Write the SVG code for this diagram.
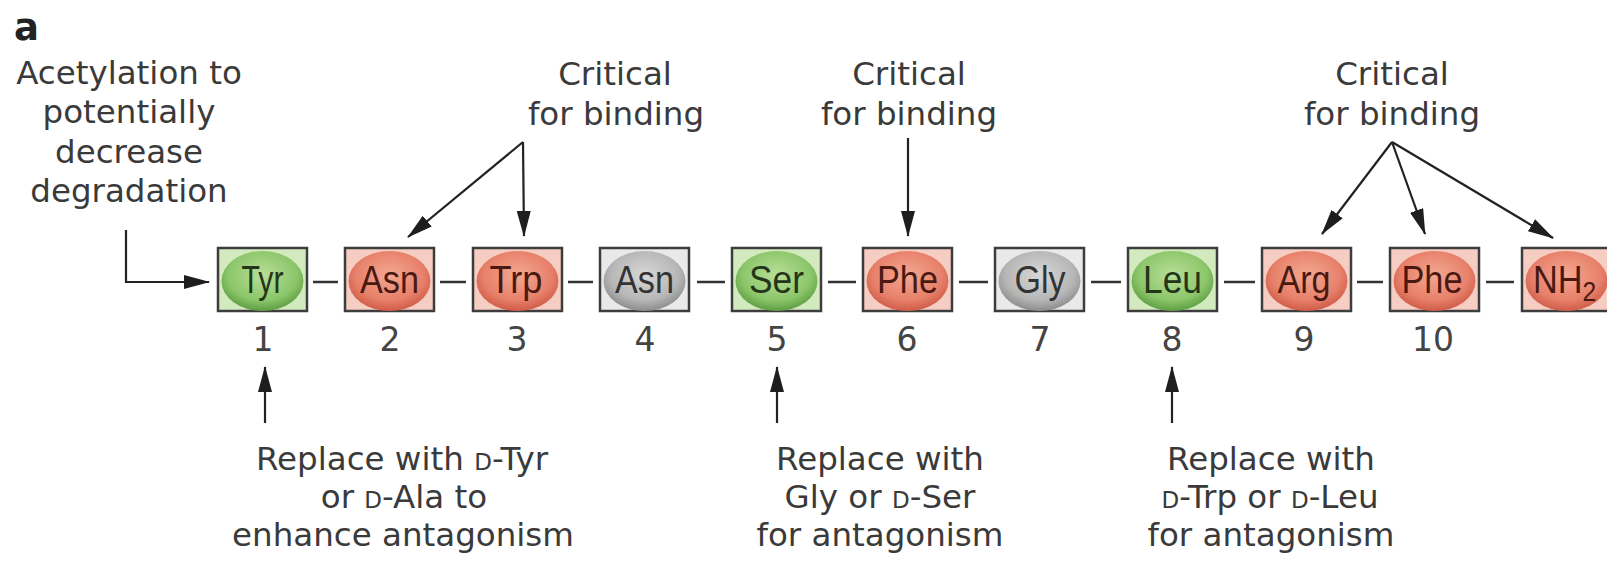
<svg xmlns="http://www.w3.org/2000/svg" width="1607" height="564" viewBox="0 0 1607 564">
<defs>
<style>
.lbl{font-family:"DejaVu Sans",sans-serif;font-size:32.5px;fill:#3a3a3a;text-anchor:middle}
.num{font-family:"DejaVu Sans",sans-serif;font-size:33px;fill:#444;text-anchor:middle}
.res{font-family:"Liberation Sans",Arial,sans-serif;font-size:39px;text-anchor:middle}
.sc{font-size:23px}
.box{stroke:#3d3d3d;stroke-width:2.5}
.gbox{fill:#d3eabf}
.rbox{fill:#f6cdc2}
.kbox{fill:#e9e9e9}
.arr{stroke:#222;stroke-width:2.2;fill:none;marker-end:url(#ah)}
.dash{stroke:#333;stroke-width:2.5}
.gt{fill:#24361a}
.rt{fill:#4a1a12}
.kt{fill:#333}
</style>
<marker id="ah" markerUnits="userSpaceOnUse" markerWidth="26" markerHeight="14" refX="25" refY="7" orient="auto">
<path d="M0,0 L26,7 L0,14 z" fill="#1e1e1e"/>
</marker>
<radialGradient id="gg" cx="50%" cy="40%" r="60%">
<stop offset="0" stop-color="#b9df98"/>
<stop offset="0.7" stop-color="#8cc66a"/>
<stop offset="1" stop-color="#5e9e45"/>
</radialGradient>
<radialGradient id="rg" cx="50%" cy="40%" r="60%">
<stop offset="0" stop-color="#f4a892"/>
<stop offset="0.7" stop-color="#e7806a"/>
<stop offset="1" stop-color="#cf5c48"/>
</radialGradient>
<radialGradient id="kg" cx="50%" cy="40%" r="60%">
<stop offset="0" stop-color="#d8d8d8"/>
<stop offset="0.7" stop-color="#b6b6b6"/>
<stop offset="1" stop-color="#8c8c8c"/>
</radialGradient>
</defs>
<rect width="1607" height="564" fill="#fff"/>
<text x="14" y="40" style="font-family:'DejaVu Sans',sans-serif;font-weight:bold;font-size:37px;fill:#222">a</text>

<g id="label-acetylation">
<text class="lbl" x="129" y="84">Acetylation to</text>
<text class="lbl" x="129" y="123">potentially</text>
<text class="lbl" x="129" y="163">decrease</text>
<text class="lbl" x="129" y="202">degradation</text>
</g>
<g id="label-critical-1">
<text class="lbl" x="615" y="85">Critical</text>
<text class="lbl" x="616" y="125">for binding</text>
</g>
<g id="label-critical-2">
<text class="lbl" x="909" y="85">Critical</text>
<text class="lbl" x="909" y="125">for binding</text>
</g>
<g id="label-critical-3">
<text class="lbl" x="1392" y="85">Critical</text>
<text class="lbl" x="1392" y="125">for binding</text>
</g>
<g id="label-replace-1">
<text class="lbl" x="402" y="470">Replace with <tspan class="sc">D</tspan>-Tyr</text>
<text class="lbl" x="404" y="508">or <tspan class="sc">D</tspan>-Ala to</text>
<text class="lbl" x="403" y="546">enhance antagonism</text>
</g>
<g id="label-replace-5">
<text class="lbl" x="880" y="470">Replace with</text>
<text class="lbl" x="880" y="508">Gly or <tspan class="sc">D</tspan>-Ser</text>
<text class="lbl" x="880" y="546">for antagonism</text>
</g>
<g id="label-replace-8">
<text class="lbl" x="1271" y="470">Replace with</text>
<text class="lbl" x="1270" y="508"><tspan class="sc">D</tspan>-Trp or <tspan class="sc">D</tspan>-Leu</text>
<text class="lbl" x="1271" y="546">for antagonism</text>
</g>

<g id="connectors">
<line class="dash" x1="313" y1="282" x2="338" y2="282"/>
<line class="dash" x1="440" y1="282" x2="466" y2="282"/>
<line class="dash" x1="568" y1="282" x2="593" y2="282"/>
<line class="dash" x1="697" y1="282" x2="725" y2="282"/>
<line class="dash" x1="828" y1="282" x2="856" y2="282"/>
<line class="dash" x1="959" y1="282" x2="988" y2="282"/>
<line class="dash" x1="1091" y1="282" x2="1121" y2="282"/>
<line class="dash" x1="1224" y1="282" x2="1255" y2="282"/>
<line class="dash" x1="1357" y1="282" x2="1383" y2="282"/>
<line class="dash" x1="1486" y1="282" x2="1514" y2="282"/>
<path class="arr" d="M126,230 V282 H209"/>
<path class="arr" d="M523,142 L408,237"/>
<path class="arr" d="M523,142 L524,236"/>
<path class="arr" d="M908,138 L908,236"/>
<path class="arr" d="M1392,142 L1322,234"/>
<path class="arr" d="M1392,142 L1425,234"/>
<path class="arr" d="M1392,142 L1553,238"/>
<path class="arr" d="M265,423 L265,367"/>
<path class="arr" d="M777,423 L777,367"/>
<path class="arr" d="M1172,423 L1172,367"/>
</g>

<g id="res1"><rect class="box gbox" x="218" y="248" width="89" height="63"/><ellipse cx="262.5" cy="281" rx="41" ry="30" fill="url(#gg)"/><text class="res gt" x="262.5" y="293" textLength="42" lengthAdjust="spacingAndGlyphs">Tyr</text><text class="num" x="263" y="351">1</text></g>
<g id="res2"><rect class="box rbox" x="345" y="248" width="89" height="63"/><ellipse cx="389.5" cy="281" rx="41" ry="30" fill="url(#rg)"/><text class="res rt" x="389.5" y="293" textLength="59" lengthAdjust="spacingAndGlyphs">Asn</text><text class="num" x="390" y="351">2</text></g>
<g id="res3"><rect class="box rbox" x="473" y="248" width="89" height="63"/><ellipse cx="517.5" cy="281" rx="41" ry="30" fill="url(#rg)"/><text class="res rt" x="516" y="293" textLength="53" lengthAdjust="spacingAndGlyphs">Trp</text><text class="num" x="517" y="351">3</text></g>
<g id="res4"><rect class="box kbox" x="600" y="248" width="89" height="63"/><ellipse cx="644.5" cy="281" rx="41" ry="30" fill="url(#kg)"/><text class="res kt" x="644.5" y="293" textLength="59" lengthAdjust="spacingAndGlyphs">Asn</text><text class="num" x="645" y="351">4</text></g>
<g id="res5"><rect class="box gbox" x="732" y="248" width="89" height="63"/><ellipse cx="776.5" cy="281" rx="41" ry="30" fill="url(#gg)"/><text class="res gt" x="776.5" y="293" textLength="55" lengthAdjust="spacingAndGlyphs">Ser</text><text class="num" x="777" y="351">5</text></g>
<g id="res6"><rect class="box rbox" x="863" y="248" width="89" height="63"/><ellipse cx="907.5" cy="281" rx="41" ry="30" fill="url(#rg)"/><text class="res rt" x="907.5" y="293" textLength="61" lengthAdjust="spacingAndGlyphs">Phe</text><text class="num" x="907" y="351">6</text></g>
<g id="res7"><rect class="box kbox" x="995" y="248" width="89" height="63"/><ellipse cx="1039.5" cy="281" rx="41" ry="30" fill="url(#kg)"/><text class="res kt" x="1040" y="293" textLength="51" lengthAdjust="spacingAndGlyphs">Gly</text><text class="num" x="1040" y="351">7</text></g>
<g id="res8"><rect class="box gbox" x="1128" y="248" width="89" height="63"/><ellipse cx="1172.5" cy="281" rx="41" ry="30" fill="url(#gg)"/><text class="res gt" x="1172.5" y="293" textLength="59" lengthAdjust="spacingAndGlyphs">Leu</text><text class="num" x="1172" y="351">8</text></g>
<g id="res9"><rect class="box rbox" x="1262" y="248" width="89" height="63"/><ellipse cx="1306.5" cy="281" rx="41" ry="30" fill="url(#rg)"/><text class="res rt" x="1304" y="293" textLength="53" lengthAdjust="spacingAndGlyphs">Arg</text><text class="num" x="1304" y="351">9</text></g>
<g id="res10"><rect class="box rbox" x="1390" y="248" width="89" height="63"/><ellipse cx="1434.5" cy="281" rx="41" ry="30" fill="url(#rg)"/><text class="res rt" x="1432" y="293" textLength="61" lengthAdjust="spacingAndGlyphs">Phe</text><text class="num" x="1433" y="351">10</text></g>
<g id="res11"><rect class="box rbox" x="1522" y="248" width="89" height="63"/><ellipse cx="1566.5" cy="281" rx="41" ry="30" fill="url(#rg)"/><text class="res rt" style="text-anchor:start" transform="translate(1533,293) scale(0.88,1)" x="0" y="0">NH<tspan dy="8" style="font-size:28px">2</tspan></text></g>
</svg>
